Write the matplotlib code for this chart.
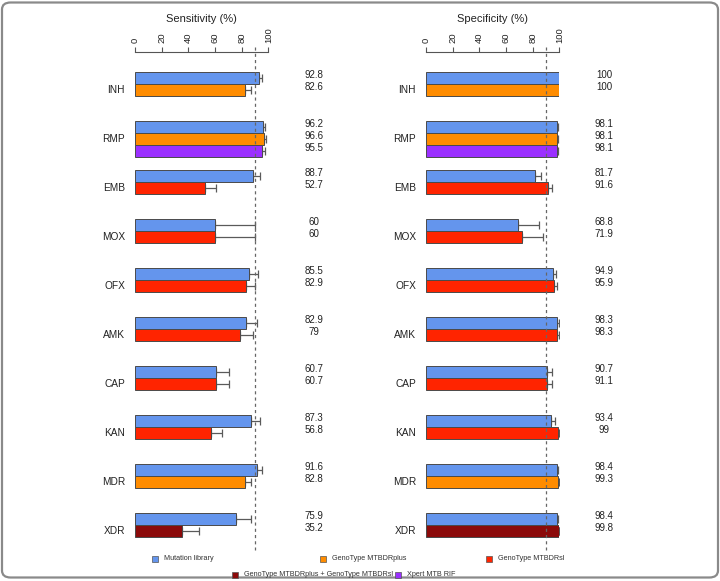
import matplotlib
matplotlib.use("Agg")
import matplotlib.pyplot as plt
from matplotlib.patches import FancyBboxPatch, Rectangle
import matplotlib.transforms as mtransforms

plt.rcParams['font.family'] = ['Liberation Sans', 'DejaVu Sans']

categories = ['INH', 'RMP', 'EMB', 'MOX', 'OFX', 'AMK', 'CAP', 'KAN', 'MDR', 'XDR']
methods = [
    ['ML', 'PLUS'],
    ['ML', 'PLUS', 'XPERT'],
    ['ML', 'SL'],
    ['ML', 'SL'],
    ['ML', 'SL'],
    ['ML', 'SL'],
    ['ML', 'SL'],
    ['ML', 'SL'],
    ['ML', 'PLUS'],
    ['ML', 'COMBO'],
]
sens_values = [[92.8, 82.6], [96.2, 96.6, 95.5], [88.7, 52.7], [60, 60], [85.5, 82.9],
               [82.9, 79], [60.7, 60.7], [87.3, 56.8], [91.6, 82.8], [75.9, 35.2]]
sens_upper = [[95.2, 87.0], [97.7, 98.2, 97.2], [94.0, 60.9], [90.2, 90.2], [92.0, 89.7],
              [91.5, 88.2], [70.7, 70.7], [93.5, 65.6], [95.2, 87.2], [87.2, 48.1]]
spec_values = [[100, 100], [98.1, 98.1, 98.1], [81.7, 91.6], [68.8, 71.9], [94.9, 95.9],
               [98.3, 98.3], [90.7, 91.1], [93.4, 99], [98.4, 99.3], [98.4, 99.8]]
spec_upper = [[100, 100], [98.8, 98.8, 98.8], [86.2, 94.5], [85.0, 87.7], [97.7, 98.0],
              [99.6, 99.6], [94.5, 94.5], [96.5, 99.5], [98.8, 99.6], [98.8, 100]]

legend_keys = ['ML', 'PLUS', 'SL', 'COMBO', 'XPERT']
legend_labels = {'ML': 'Mutation library', 'PLUS': 'GenoType MTBDRplus', 'SL': 'GenoType MTBDRsl',
                 'COMBO': 'GenoType MTBDRplus + GenoType MTBDRsl', 'XPERT': 'Xpert MTB RIF'}
colors = {'ML': '#6495ED', 'PLUS': '#FF8C00', 'SL': '#FF2400', 'COMBO': '#8B0A0A', 'XPERT': '#9B30FF'}

W, H = 720, 581
fig = plt.figure(figsize=(W / 100, H / 100), dpi=100)

# outer rounded frame
frame = FancyBboxPatch((2 / W, 3.5 / H), (W - 4) / W, (H - 6) / H,
                       boxstyle="round,pad=0,rounding_size=0.012",
                       transform=fig.transFigure, fill=False, edgecolor='#8a8a8a', lw=1.6)
fig.patches.append(frame)

GAP = 49 / 12.0
ytop_px, ybot_px = 72, 549


def panel(x0_px, values, uppers, title, text_x):
    ax = fig.add_axes([x0_px / W, 1 - ybot_px / H, 133.3 / W, (ybot_px - ytop_px) / H])
    ax.set_xlim(0, 100)
    ax.set_ylim(9 * GAP + 3, 0)
    for i, cat in enumerate(categories):
        for j, m in enumerate(methods[i]):
            yc = i * GAP + j + 0.5
            v = values[i][j]
            up = uppers[i][j]
            if up > v:
                ax.errorbar([v], [yc], xerr=[[0], [up - v]], fmt='none', ecolor='#5a5a5a',
                            elinewidth=0.9, capsize=2.6, capthick=0.9, zorder=1)
            ax.barh(yc, v, height=1.0, left=0, color=colors[m], edgecolor='#4a4a4a',
                    linewidth=0.7, zorder=2)
            ax.text(text_x, yc - 0.25, '{:g}'.format(v), ha='center', va='center',
                    fontsize=7, color='#222222', clip_on=False)
        ax.text(-7.5, i * GAP + 1.5, cat, ha='right', va='center', fontsize=7.3,
                color='#222222', clip_on=False)
    trans = mtransforms.blended_transform_factory(ax.transData, ax.transAxes)
    ax.plot([90, 90], [1.052, -0.003], transform=trans, color='#666666', lw=0.9,
            ls=(0, (2.5, 2.5)), clip_on=False, zorder=3)
    for s in ['left', 'right', 'bottom']:
        ax.spines[s].set_visible(False)
    ax.spines['top'].set_position(('outward', 14.4))
    ax.spines['top'].set_bounds(0, 100)
    ax.spines['top'].set_color('#555555')
    ax.spines['top'].set_linewidth(0.8)
    ax.xaxis.set_ticks_position('top')
    ax.set_xticks([0, 20, 40, 60, 80, 100])
    ax.set_xticklabels(['0', '20', '40', '60', '80', '100'], rotation=90, fontsize=6.8,
                       color='#222222')
    ax.tick_params(axis='x', direction='out', length=3.6, width=0.8, color='#555555', pad=3.2)
    ax.set_yticks([])
    fig.text((x0_px + 66.6) / W, 1 - 19 / H, title, ha='center', va='center',
             fontsize=8, color='#222222')
    return ax


ax1 = panel(135, sens_values, sens_upper, 'Sensitivity (%)', 134.2)
ax2 = panel(426, spec_values, spec_upper, 'Specificity (%)', 133.5)

leg_pos = {'ML': (155, 559), 'PLUS': (322.5, 559), 'SL': (489, 559),
           'COMBO': (235, 575), 'XPERT': (398, 575)}
for k in legend_keys:
    px, py = leg_pos[k]
    fig.patches.append(Rectangle(((px - 3) / W, 1 - (py + 3) / H), 6 / W, 6 / H,
                                 transform=fig.transFigure, facecolor=colors[k],
                                 edgecolor='#555555', lw=0.5))
    fig.text((px + 9) / W, 1 - py / H, legend_labels[k], ha='left', va='center',
             fontsize=5.2, color='#333333')

fig.savefig('out.png', dpi=100)
